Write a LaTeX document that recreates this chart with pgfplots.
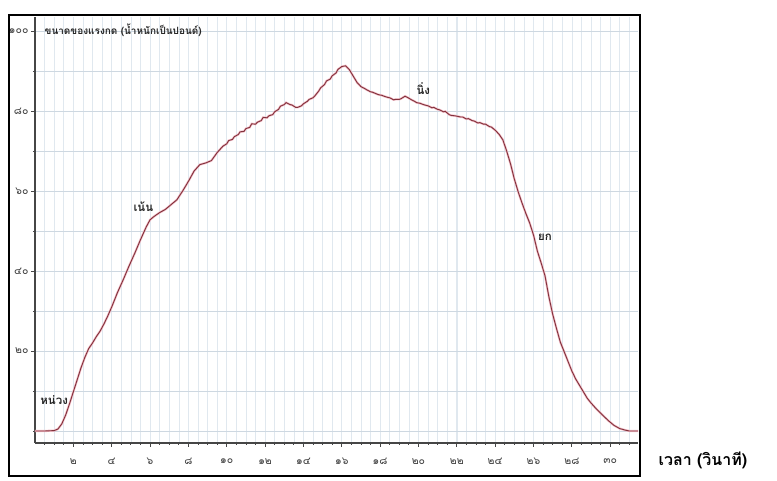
\documentclass[border=0pt]{standalone}
\usepackage{fontspec}
\usepackage{pgfplots}
\pgfplotsset{compat=1.18}
\setmainfont[Script=Thai]{Loma}

\definecolor{gridv}{RGB}{224,232,239}
\definecolor{gridh}{RGB}{206,216,225}
\definecolor{curve}{RGB}{130,50,60}
\definecolor{halo}{RGB}{240,188,198}
\definecolor{axc}{RGB}{70,70,70}

\pgfplotstableread{
x y
0 0
0.5 0
1.0 0.1
1.2 0.5
1.4 1.8
1.6 4.0
1.8 6.8
2.0 9.8
2.2 12.8
2.4 15.8
2.6 18.4
2.8 20.6
3.0 22.0
3.2 23.6
3.4 25.0
3.6 26.8
3.8 28.8
4.0 31.0
4.3 34.6
4.6 37.8
4.9 41.2
5.2 44.4
5.5 47.8
5.8 51.0
6.0 52.8
6.2 53.6
6.5 54.6
6.8 55.4
7.1 56.6
7.4 57.8
7.7 60.0
8.0 62.4
8.3 65.0
8.6 66.6
8.9 67.0
9.2 67.6
9.5 69.6
9.8 71.2
10.0 71.8
10.1 72.6
10.3 72.9
10.4 73.6
10.6 74.1
10.7 74.8
10.9 74.9
11.0 75.6
11.2 75.9
11.3 76.8
11.5 76.7
11.6 77.2
11.8 77.6
11.9 78.4
12.1 78.3
12.2 78.8
12.4 79.1
12.5 79.8
12.7 80.4
12.8 81.2
13.0 81.6
13.1 82.1
13.3 81.6
13.4 81.5
13.6 80.9
13.7 80.9
13.9 81.3
14.0 81.8
14.2 82.4
14.3 82.9
14.5 83.3
14.6 83.8
14.8 85.0
14.9 85.8
15.1 86.6
15.2 87.5
15.4 88.0
15.5 88.8
15.7 89.5
15.8 90.4
16.0 91.1
16.2 91.3
16.3 90.8
16.4 90.3
16.6 88.7
16.8 87.1
17.0 86.1
17.2 85.6
17.3 85.3
17.5 84.8
17.6 84.7
17.8 84.3
17.9 84.1
18.1 83.9
18.2 83.7
18.4 83.4
18.5 83.3
18.7 82.8
18.8 82.9
19.0 82.9
19.1 83.1
19.3 83.7
19.5 83.2
19.6 82.9
19.8 82.4
19.9 82.1
20.1 81.9
20.2 81.7
20.4 81.4
20.5 81.3
20.7 80.8
20.8 80.9
21.0 80.4
21.1 80.3
21.3 79.8
21.4 79.9
21.6 79.1
21.7 78.9
21.9 78.8
22.0 78.7
22.2 78.5
22.3 78.5
22.5 78.0
22.6 78.1
22.8 77.6
22.9 77.5
23.1 77.0
23.2 77.1
23.4 76.7
23.5 76.7
23.7 76.1
23.8 76.0
24.0 75.2
24.2 74.2
24.4 72.8
24.6 70.0
24.8 66.8
25.0 63.0
25.2 59.8
25.4 57.0
25.6 54.4
25.8 52.0
26.0 49.0
26.2 45.0
26.4 42.0
26.6 38.8
26.8 33.6
27.0 29.2
27.2 25.6
27.4 22.2
27.6 19.8
27.8 17.4
28.0 15.0
28.2 13.0
28.4 11.4
28.6 9.8
28.8 8.2
29.0 7.0
29.3 5.4
29.6 4.0
29.9 2.6
30.2 1.4
30.5 0.6
30.8 0.2
31.0 0
31.45 0
}\forcedata

\begin{document}
\begin{tikzpicture}[x=1pt,y=1pt]
\useasboundingbox (0,0) rectangle (777,481);
\begin{axis}[
  at={(35pt,38pt)}, anchor=south west,
  scale only axis, width=603pt, height=426pt,
  xmin=0, xmax=31.45, ymin=-3, ymax=103.5,
  axis x line*=bottom, axis y line*=left,
  axis line style={axc, line width=1.1pt, -},
  xtick={2,4,...,30},
  xticklabels={๒,๔,๖,๘,๑๐,๑๒,๑๔,๑๖,๑๘,๒๐,๒๒,๒๔,๒๖,๒๘,๓๐},
  minor xtick={0.5,1,...,31},
  ytick={20,40,60,80,100},
  yticklabels={๒๐,๔๐,๖๐,๘๐,๑๐๐},
  minor ytick={0,10,30,50,70,90},
  grid=both,
  major x grid style={gridv, line width=0.7pt},
  minor x grid style={gridv, line width=0.6pt},
  major y grid style={gridh, line width=0.8pt},
  minor y grid style={gridh, line width=0.8pt},
  tick style={axc, line width=0.8pt},
  major tick length=4pt, minor tick length=2pt,
  tick align=outside,
  xticklabel style={font=\fontsize{10.5}{10.5}\selectfont, text=black!75, yshift=-8pt},
  yticklabel style={font=\fontsize{10.5}{10.5}\selectfont, text=black!75, xshift=1pt},
  clip=false,
]
\addplot[halo, line width=2.2pt] table[x=x,y=y] {\forcedata};
\addplot[curve, line width=0.9pt] table[x=x,y=y] {\forcedata};
\node[font=\fontsize{10}{10}\selectfont\bfseries, text=black!85] at (axis cs:4.6,100.3) {ขนาดของแรงกด (น้ำหนักเป็นปอนด์)};
\node[font=\fontsize{11.5}{11.5}\selectfont\bfseries, text=black!85] at (axis cs:1.0,7.8) {หน่วง};
\node[font=\fontsize{11.5}{11.5}\selectfont\bfseries, text=black!85] at (axis cs:5.65,56) {เน้น};
\node[font=\fontsize{11.5}{11.5}\selectfont\bfseries, text=black!85] at (axis cs:20.25,85.5) {นิ่ง};
\node[font=\fontsize{11.5}{11.5}\selectfont\bfseries, text=black!85] at (axis cs:26.6,48.5) {ยก};
\end{axis}
\draw[line width=1.8pt] (9,5) rectangle (640,466);
\node[font=\fontsize{16}{16}\selectfont\bfseries, anchor=west] at (655,21) {เวลา (วินาที)};
\end{tikzpicture}
\end{document}
